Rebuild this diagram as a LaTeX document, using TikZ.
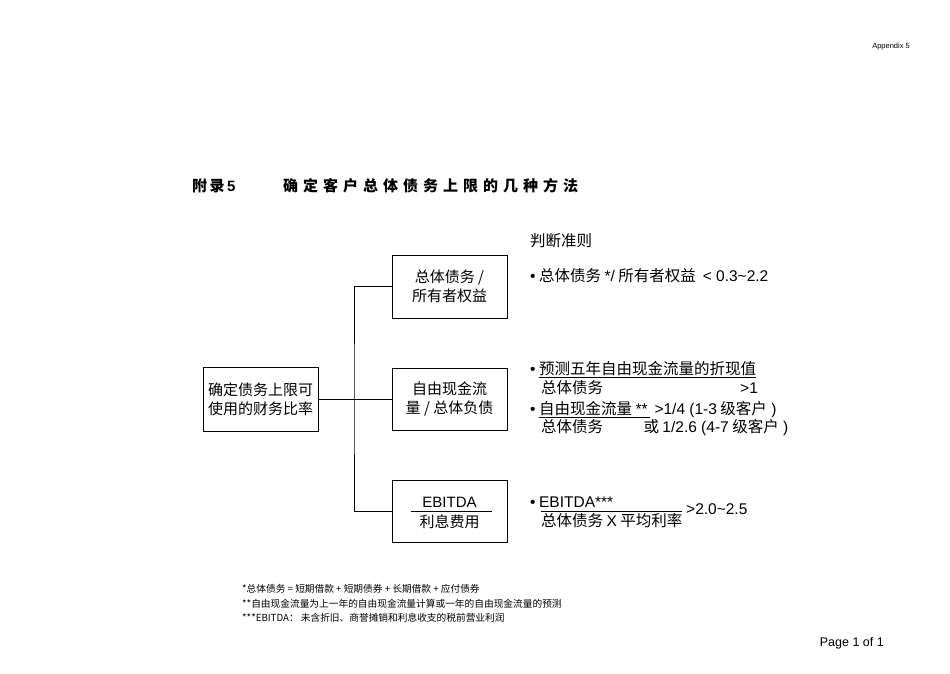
\documentclass[tikz,border=0pt]{standalone}
\usepackage{fontspec}
\setmainfont{Noto Sans CJK SC}
\newfontfamily\lat{Liberation Sans}
\begin{document}
\begin{tikzpicture}[x=1pt,y=-1pt,
  box/.style={draw,line width=0.6pt,minimum width=115pt,align=center,font=\fontsize{15}{19}\selectfont,inner sep=0pt},
  txt/.style={anchor=west,inner sep=0pt,font=\fontsize{15.5}{17}\selectfont},
  fn/.style={anchor=west,inner sep=0pt,font=\fontsize{9.7}{10}\selectfont}]
\useasboundingbox (0,0) rectangle (950,673);
\node[anchor=east,inner sep=0pt,font=\lat\fontsize{7.5}{8}\selectfont] (app) at (910,47) {Appendix 5};
\node[anchor=west,inner sep=0pt,font=\bfseries\fontsize{15}{16}\selectfont] (t1) at (192,186) {附\,录\,{\lat 5}};
\node[anchor=west,inner sep=0pt,font=\bfseries\fontsize{15}{16}\selectfont] (t2) at (283,186) {确\,\,定\,\,客\,\,户\,\,总\,\,体\,\,债\,\,务\,\,上\,\,限\,\,的\,\,几\,\,种\,\,方\,\,法};
\node[txt] (crit) at (530,241) {判断准则};
\node[box,minimum height=64pt] (l) at (260.5,399) {确定债务上限可\\使用的财务比率};
\node[box,minimum height=63pt] (b1) at (449.5,286.5) {总体债务 /\\所有者权益};
\node[box,minimum height=62pt] (b2) at (449.5,399) {自由现金流\\量 / 总体负债};
\node[box,minimum height=62pt] (b3) at (449.5,511) {};
\node[inner sep=0pt,font=\lat\fontsize{15}{16}\selectfont] (eb) at (449.5,502) {EBITDA};
\node[inner sep=0pt,font=\fontsize{15}{16}\selectfont] (lx) at (449.5,522) {利息费用};
\draw[line width=0.6pt] (411,511.5) -- (492,511.5);
\coordinate (sp) at (354,399);
\draw[line width=0.6pt] (l.east) -- (sp);
\draw[line width=0.6pt] (b1.west) -| (354,399) |- (b3.west);
\draw[line width=0.6pt] (sp) -- (b2.west);
\node[txt] (r1) at (530,276) {{\lat•} 总体债务 {\lat */} 所有者权益\ \ {\lat < 0.3\textasciitilde 2.2}};
\node[txt] (r2) at (530,370) {{\lat•} \underline{预测五年自由现金流量的折现值}};
\node[txt] (r3) at (541,388) {总体债务};
\node[txt] (r3b) at (740,388) {\lat >1};
\node[txt] (r4) at (530,410) {{\lat•} \underline{自由现金流量 {\lat **}\,}{\lat\ >1/4 (1-3} 级客户{\lat\ )}};
\node[txt] (r5) at (541,428) {总体债务\hspace{2.6em}或 {\lat 1/2.6 (4-7} 级客户{\lat\ )}};
\node[txt] (r6) at (530,502) {{\lat•} {\lat EBITDA***}};
\draw[line width=0.6pt] (541,511) -- (682,511);
\node[txt] (r7) at (541,521) {总体债务 {\lat X} 平均利率};
\node[txt] (r8) at (686,509) {\lat >2.0\textasciitilde 2.5};
\node[fn] (f1) at (242,589) {*总体债务 = 短期借款 + 短期债券 + 长期借款 + 应付债券};
\node[fn] (f2) at (242,604) {**自由现金流量为上一年的自由现金流量计算或一年的自由现金流量的预测};
\node[fn] (f3) at (242,618) {***EBITDA： 未含折旧、商誉摊销和利息收支的税前营业利润};
\node[anchor=east,inner sep=0pt,font=\lat\fontsize{12.5}{14}\selectfont] (pg) at (884,643) {Page 1 of 1};
\end{tikzpicture}
\end{document}
